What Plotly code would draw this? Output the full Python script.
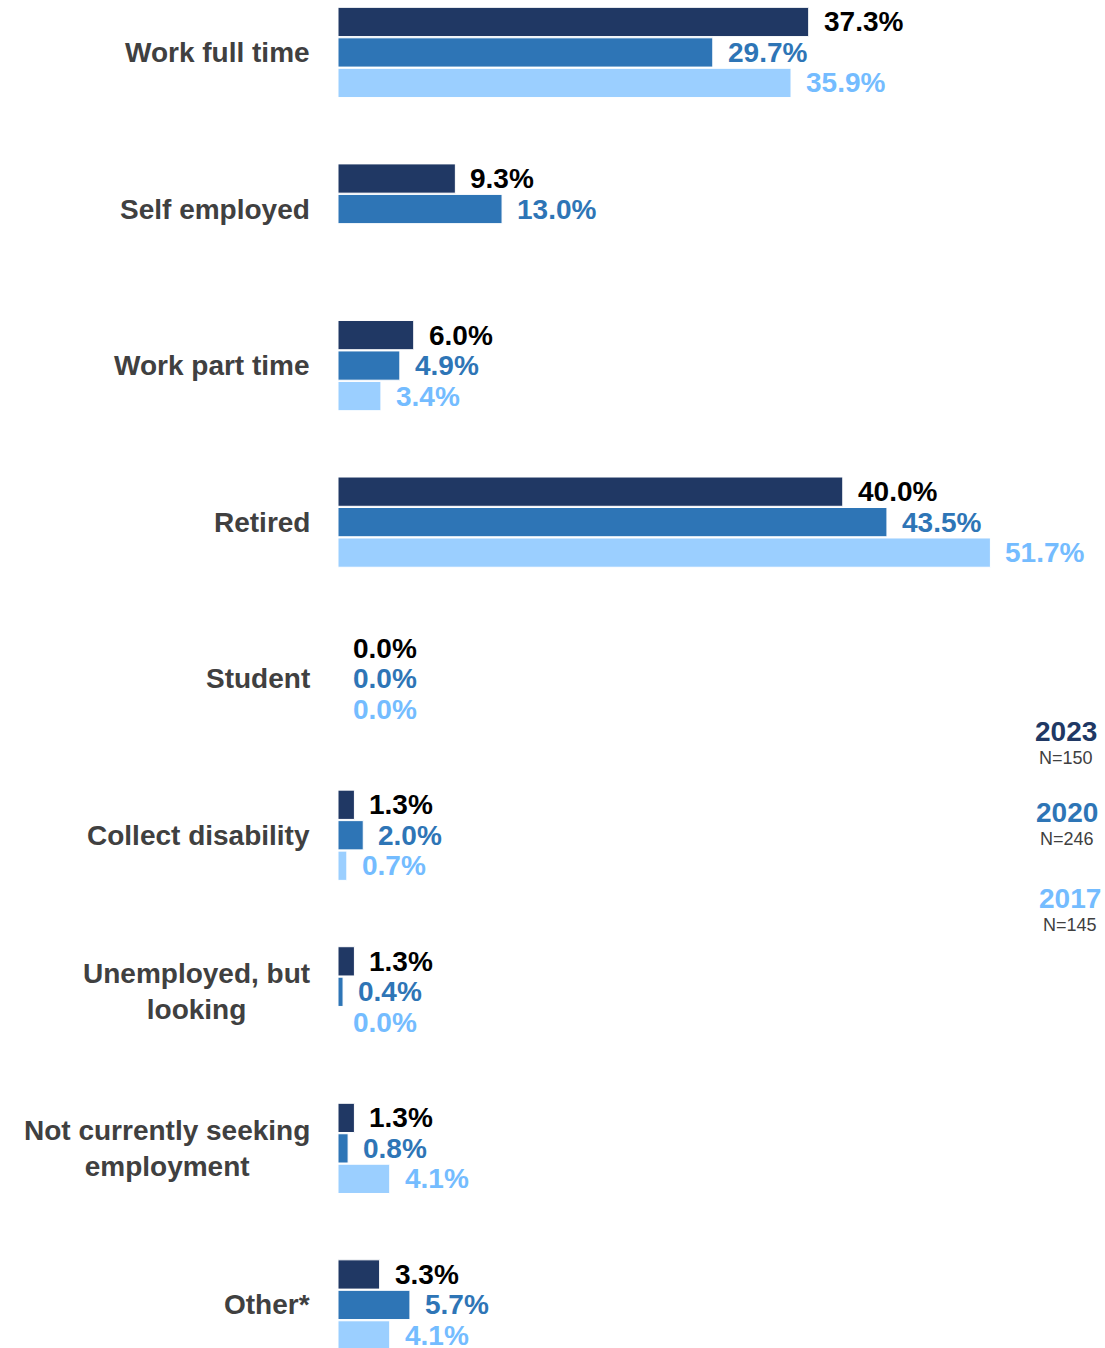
import plotly.graph_objects as go

# Employment status by survey year (percent of respondents)
categories = [
    "Work full time",
    "Self employed",
    "Work part time",
    "Retired",
    "Student",
    "Collect disability",
    "Unemployed, but<br>looking",
    "Not currently seeking<br>employment",
    "Other*",
]
years = ["2023", "2020", "2017"]
sample_sizes = ["N=150", "N=246", "N=145"]
values_2023 = [37.3, 9.3, 6.0, 40.0, 0.0, 1.3, 1.3, 1.3, 3.3]
values_2020 = [29.7, 13.0, 4.9, 43.5, 0.0, 2.0, 0.4, 0.8, 5.7]
values_2017 = [35.9, None, 3.4, 51.7, 0.0, 0.7, 0.0, 4.1, 4.1]

series = [values_2023, values_2020, values_2017]
bar_colors = ["#203864", "#2E75B6", "#9BCFFF"]
label_colors = ["#000000", "#2E75B6", "#74BCFF"]
year_colors = ["#203864", "#2E75B6", "#74BCFF"]

FONT = "Liberation Sans, Arial, sans-serif"
BARGAP = 0.416
positions = list(range(len(categories)))

fig = go.Figure()
for year, vals, col in zip(years, series, bar_colors):
    fig.add_trace(go.Bar(
        y=positions,
        x=vals,
        name=year,
        orientation="h",
        marker=dict(color=col, line=dict(color="white", width=1)),
        showlegend=False,
    ))

# Value labels placed just past the end of each bar
slot = (1 - BARGAP) / len(series)
for k, (vals, col) in enumerate(zip(series, label_colors)):
    offset = (k - (len(series) - 1) / 2) * slot
    for i, v in enumerate(vals):
        if v is None:
            continue
        fig.add_annotation(
            x=v, y=i + offset, xref="x", yref="y",
            text=f"<b>{v:.1f}%</b>",
            showarrow=False, xanchor="left", yanchor="middle", xshift=13,
            font=dict(family=FONT, size=28, color=col),
        )

# Category labels to the left of the bars
for i, cat in enumerate(categories):
    fig.add_annotation(
        x=0, y=i, xref="paper", yref="y",
        text=f"<b>{cat}</b>",
        showarrow=False, xanchor="right", yanchor="middle", xshift=-26,
        align="center",
        font=dict(family=FONT, size=28, color="#404040"),
    )

# Year key with sample sizes
key_x = [0.949, 0.951, 0.955]
key_y = [731, 812, 898]
for year, n, col, kx, ky in zip(years, sample_sizes, year_colors, key_x, key_y):
    fig.add_annotation(
        x=kx, y=1 - ky / 1348, xref="paper", yref="paper",
        text=f"<b>{year}</b>", showarrow=False,
        xanchor="center", yanchor="middle",
        font=dict(family=FONT, size=28, color=col),
    )
    fig.add_annotation(
        x=kx, y=1 - (ky + 27) / 1348, xref="paper", yref="paper",
        text=n, showarrow=False,
        xanchor="center", yanchor="middle",
        font=dict(family=FONT, size=18, color="#404040"),
    )

fig.update_layout(
    width=1105, height=1348,
    margin=dict(l=338, r=0, t=0, b=0),
    barmode="group",
    bargap=BARGAP,
    bargroupgap=0.04,
    plot_bgcolor="white",
    paper_bgcolor="white",
    xaxis=dict(range=[0, 60.78], visible=False, fixedrange=True),
    yaxis=dict(range=[8.275, -0.335], visible=False, fixedrange=True),
)

fig.write_html("out.html")
